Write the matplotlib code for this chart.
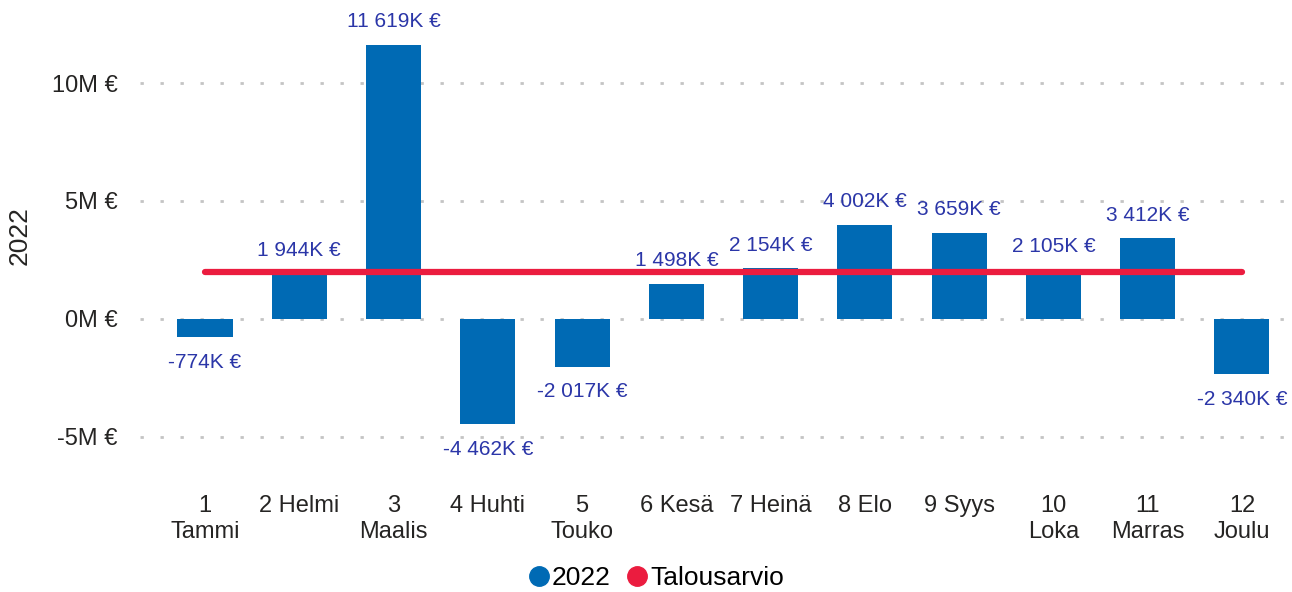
import matplotlib
matplotlib.use("Agg")
import matplotlib.pyplot as plt
from matplotlib.lines import Line2D
from matplotlib.ticker import FixedLocator

plt.rcParams['font.family'] = ['Liberation Sans', 'DejaVu Sans']

months = ["1\nTammi", "2 Helmi", "3\nMaalis", "4 Huhti", "5\nTouko", "6 Kesä",
          "7 Heinä", "8 Elo", "9 Syys", "10\nLoka", "11\nMarras", "12\nJoulu"]
values_k = [-774, 1944, 11619, -4462, -2017, 1498, 2154, 4002, 3659, 2105, 3412, -2340]
budget_k = [1990] * 12
yticks_m = [-5, 0, 5, 10]
ytick_labels = ["-5M €", "0M €", "5M €", "10M €"]

bar_color = "#006AB4"
line_color = "#EB1C3F"
label_color = "#2B36A8"

fig = plt.figure(figsize=(12.92, 5.92), dpi=100)
ax = fig.add_axes([140/1292, 1 - 470/592, 1150/1292, 450/592])

x = list(range(len(months)))
vals = [v / 1000 for v in values_k]
ax.bar(x, vals, width=0.585, color=bar_color, zorder=2)
ax.plot(x, [b / 1000 for b in budget_k], color=line_color, lw=4.5,
        solid_capstyle='round', zorder=3)

for xi, v, vk in zip(x, vals, values_k):
    s = f"{abs(vk):,}".replace(",", " ")
    txt = ("-" if vk < 0 else "") + s + "K €"
    if v >= 0:
        ax.annotate(txt, (xi, v), xytext=(0, 23), textcoords='offset pixels',
                    ha='center', va='center', color=label_color, fontsize=15)
    else:
        ax.annotate(txt, (xi, v), xytext=(0, -25), textcoords='offset pixels',
                    ha='center', va='center', color=label_color, fontsize=15)

ax.set_xlim(-0.69, 11.51)
ax.set_ylim(-6.4, 12.67)
ax.yaxis.set_major_locator(FixedLocator(yticks_m))
ax.set_yticklabels(ytick_labels, fontsize=17, color="#252423")
ax.set_xticks(x)
ax.set_xticklabels(months, fontsize=17, color="#252423", linespacing=1.25)
ax.tick_params(axis='both', length=0)
ax.tick_params(axis='x', pad=18)
ax.tick_params(axis='y', pad=16)
ax.grid(axis='y', color="#C4C4C4", linestyle=(0, (1.2, 6)), lw=2, zorder=0)
for sp in ax.spines.values():
    sp.set_visible(False)
ax.set_ylabel("2022", fontsize=19, color="#252423")
ax.yaxis.set_label_coords(-108/1150, 0.52)

handles = [Line2D([], [], marker='o', ls='', color=bar_color, markersize=14),
           Line2D([], [], marker='o', ls='', color=line_color, markersize=14)]
fig.legend(handles, ["2022", "Talousarvio"], loc='center', bbox_to_anchor=(655/1292, 1 - 578/592),
           ncol=2, frameon=False, fontsize=19, handletextpad=0.0, columnspacing=0.5,
           handlelength=1.0)

fig.savefig("out.png", dpi=100)
